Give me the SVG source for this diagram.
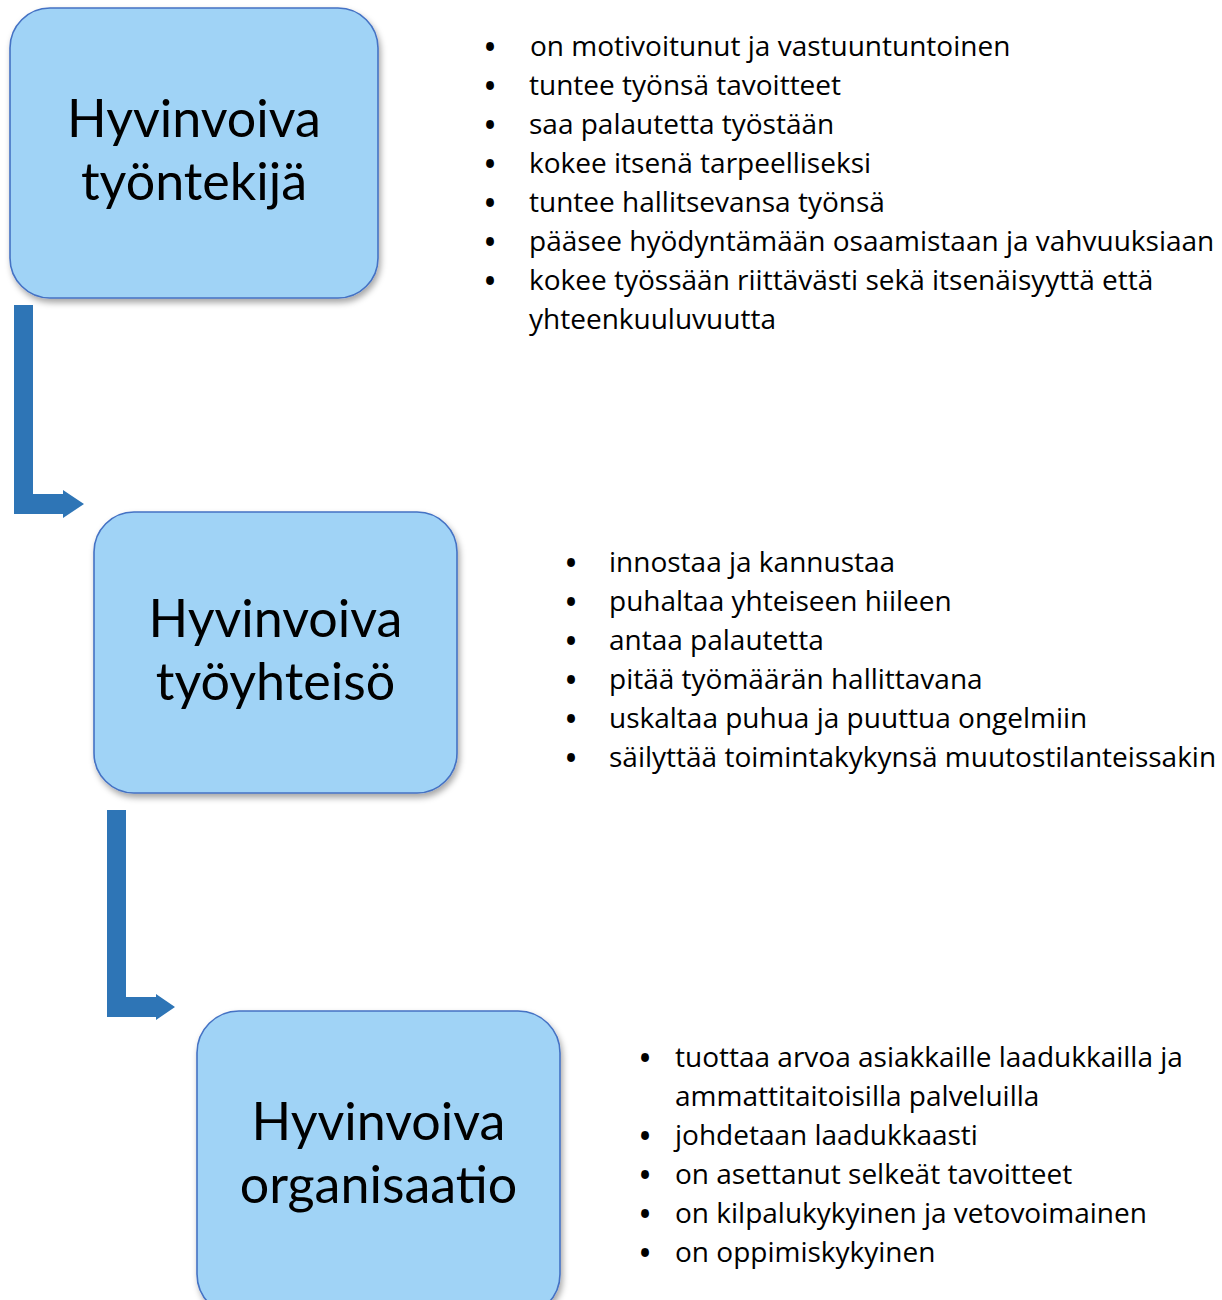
<svg xmlns="http://www.w3.org/2000/svg" width="1222" height="1300" viewBox="0 0 1222 1300">
<defs>
<filter id="sh" x="-10%" y="-10%" width="125%" height="125%">
<feDropShadow dx="2" dy="4" stdDeviation="3" flood-color="#000" flood-opacity="0.35"/>
</filter>
<style>
.box{fill:#a0d3f6;stroke:#4472c4;stroke-width:1.6;filter:url(#sh)}
.title{font-family:Lato,"Open Sans","Liberation Sans",sans-serif;font-size:52px;fill:#000;text-anchor:middle}
.item{font-family:"Open Sans","Liberation Sans",sans-serif;font-size:28px;fill:#000}
.bul{font-family:"Open Sans","Liberation Sans",sans-serif;font-size:28px;font-weight:bold;fill:#000;text-anchor:middle}
.arrow{fill:#2e75b6}
</style>
</defs>
<rect width="1222" height="1300" fill="#fff"/>
<g id="connectors">
<path class="arrow" d="M14,305 H33 V494 H63 V490 L84,504 L63,518 V514 H14 Z"/>
<path class="arrow" d="M107,810 H126 V997 H156 V994 L175,1007 L156,1020 V1017 H107 Z"/>
</g>
<g id="node-tyontekija">
<rect class="box" x="10" y="8" width="368" height="290" rx="40" ry="40"/>
<text class="title"><tspan x="194" y="137">Hyvinvoiva</tspan><tspan x="194" y="200">työntekijä</tspan></text>
</g>
<g id="list-tyontekija">
<text class="bul" x="490" y="57">•</text><text class="item" x="530" y="56">on motivoitunut ja vastuuntuntoinen</text>
<text class="bul" x="490" y="96">•</text><text class="item" x="529" y="95">tuntee työnsä tavoitteet</text>
<text class="bul" x="490" y="135">•</text><text class="item" x="529" y="134">saa palautetta työstään</text>
<text class="bul" x="490" y="174">•</text><text class="item" x="529" y="173">kokee itsenä tarpeelliseksi</text>
<text class="bul" x="490" y="213">•</text><text class="item" x="529" y="212">tuntee hallitsevansa työnsä</text>
<text class="bul" x="490" y="252">•</text><text class="item" x="529" y="251">pääsee hyödyntämään osaamistaan ja vahvuuksiaan</text>
<text class="bul" x="490" y="291">•</text><text class="item"><tspan x="529" y="290">kokee työssään riittävästi sekä itsenäisyyttä että</tspan><tspan x="529" y="329">yhteenkuuluvuutta</tspan></text>
</g>
<g id="node-tyoyhteiso">
<rect class="box" x="94" y="512" width="363" height="281" rx="40" ry="40"/>
<text class="title"><tspan x="275.5" y="637">Hyvinvoiva</tspan><tspan x="275.5" y="700">työyhteisö</tspan></text>
</g>
<g id="list-tyoyhteiso">
<text class="bul" x="571" y="573">•</text><text class="item" x="609" y="572">innostaa ja kannustaa</text>
<text class="bul" x="571" y="612">•</text><text class="item" x="609" y="611">puhaltaa yhteiseen hiileen</text>
<text class="bul" x="571" y="651">•</text><text class="item" x="609" y="650">antaa palautetta</text>
<text class="bul" x="571" y="690">•</text><text class="item" x="609" y="689">pitää työmäärän hallittavana</text>
<text class="bul" x="571" y="729">•</text><text class="item" x="609" y="728">uskaltaa puhua ja puuttua ongelmiin</text>
<text class="bul" x="571" y="768">•</text><text class="item" x="609" y="767">säilyttää toimintakykynsä muutostilanteissakin</text>
</g>
<g id="node-organisaatio">
<rect class="box" x="197" y="1011" width="363" height="305" rx="42" ry="42"/>
<text class="title"><tspan x="378.5" y="1140">Hyvinvoiva</tspan><tspan x="378.5" y="1203">organisaatio</tspan></text>
</g>
<g id="list-organisaatio">
<text class="bul" x="645" y="1068">•</text><text class="item"><tspan x="675" y="1067">tuottaa arvoa asiakkaille laadukkailla ja</tspan><tspan x="675" y="1106">ammattitaitoisilla palveluilla</tspan></text>
<text class="bul" x="645" y="1146">•</text><text class="item" x="675" y="1145">johdetaan laadukkaasti</text>
<text class="bul" x="645" y="1185">•</text><text class="item" x="675" y="1184">on asettanut selkeät tavoitteet</text>
<text class="bul" x="645" y="1224">•</text><text class="item" x="675" y="1223">on kilpalukykyinen ja vetovoimainen</text>
<text class="bul" x="645" y="1263">•</text><text class="item" x="675" y="1262">on oppimiskykyinen</text>
</g>
</svg>
